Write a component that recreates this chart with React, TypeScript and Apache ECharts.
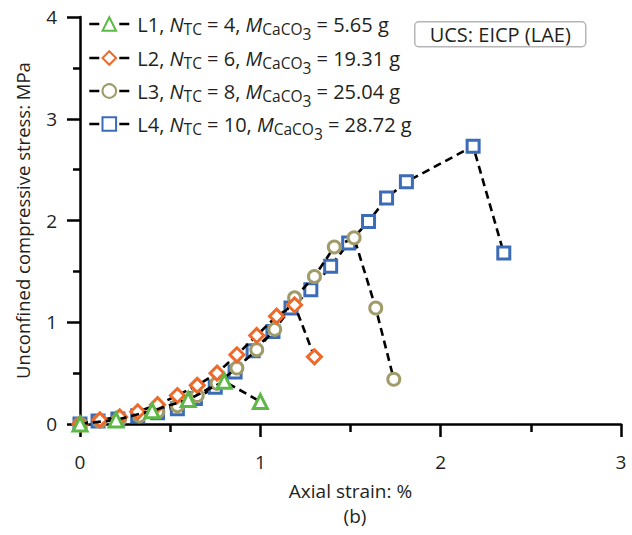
import React, { useEffect, useRef } from "react";
import * as echarts from "echarts";

const seriesNames = ["L1", "L2", "L3", "L4"];
const nTC = [4, 6, 8, 10];
const mCaCO3 = ["5.65", "19.31", "25.04", "28.72"];

const l1X = [0, 0.2, 0.4, 0.6, 0.8, 1.0];
const l1Y = [0, 0.04, 0.13, 0.24, 0.42, 0.22];

const l2X = [0, 0.11, 0.22, 0.32, 0.43, 0.54, 0.65, 0.76, 0.87, 0.98, 1.09, 1.19, 1.3];
const l2Y = [0, 0.04, 0.07, 0.12, 0.19, 0.28, 0.38, 0.5, 0.68, 0.87, 1.06, 1.17, 0.66];

const l3X = [0, 0.11, 0.22, 0.33, 0.43, 0.54, 0.65, 0.76, 0.87, 0.98, 1.08, 1.19, 1.3, 1.41, 1.52, 1.64, 1.74];
const l3Y = [0, 0.03, 0.05, 0.08, 0.12, 0.18, 0.28, 0.4, 0.55, 0.73, 0.93, 1.24, 1.45, 1.74, 1.83, 1.14, 0.44];

const l4X = [0, 0.1, 0.21, 0.32, 0.43, 0.54, 0.64, 0.75, 0.86, 0.96, 1.07, 1.17, 1.28, 1.39, 1.49, 1.6, 1.7, 1.81, 2.18, 2.35];
const l4Y = [0, 0.03, 0.05, 0.08, 0.11, 0.15, 0.25, 0.36, 0.51, 0.72, 0.91, 1.14, 1.32, 1.55, 1.78, 1.99, 2.22, 2.38, 2.73, 1.68];

const xTicks = [0, 1, 2, 3];
const yTicks = [0, 1, 2, 3, 4];

const colors = ["#5cb946", "#ee6a2b", "#a09c6a", "#3c6cb8"];
const symbols = ["triangle", "diamond", "circle", "rect"];
const symbolSizes = [14, 14, 12, 12];

const FONT = "Open Sans";
const TEXT = "#231f20";

export default function App() {
  const ref = useRef<HTMLDivElement>(null);
  useEffect(() => {
    if (!ref.current) return;
    const chart = echarts.init(ref.current, null, { renderer: "svg" });
    const xs = [l1X, l2X, l3X, l4X];
    const ys = [l1Y, l2Y, l3Y, l4Y];
    const series: any[] = [];
    for (let i = 3; i >= 0; i--) {
      series.push({
        name: seriesNames[i],
        type: "line",
        data: xs[i].map((x, k) => [x, ys[i][k]]),
        symbol: symbols[i],
        symbolSize: symbolSizes[i],
        showAllSymbol: true,
        clip: false,
        lineStyle: { color: "#000", width: 2.6, type: [8, 5] },
        itemStyle: { color: "#fff", borderColor: colors[i], borderWidth: 3 },
        z: 2 + (3 - i),
      });
    }
    const legendMap: Record<string, string> = {};
    seriesNames.forEach((n, i) => {
      legendMap[n] = `${n}, {i|N}{sub|TC} = ${nTC[i]}, {i|M}{sub|CaCO}{sub2|3} = ${mCaCO3[i]} g`;
    });
    const rowTops = [6, 40, 73, 106];
    const legends = seriesNames.map((n, i) => ({
      data: [n],
      orient: "vertical",
      left: 88,
      top: rowTops[i],
      padding: 0,
      itemWidth: 40,
      itemHeight: 17,
      lineStyle: { color: "#000", width: 2.6, type: [10, 20] },
      formatter: (name: string) => legendMap[name],
      textStyle: {
        fontFamily: FONT,
        fontSize: 20,
        color: TEXT,
        lineHeight: 24,
        padding: [0, 0, 0, 3],
        rich: {
          i: { fontFamily: FONT, fontSize: 20, fontStyle: "italic", color: TEXT, lineHeight: 24 },
          sub: { fontFamily: FONT, fontSize: 15.5, color: TEXT, padding: [9, 0, 0, 0], lineHeight: 24 },
          sub2: { fontFamily: FONT, fontSize: 15.5, color: TEXT, padding: [20, 0, 0, 0], lineHeight: 24 },
        },
      },
    }));
    chart.setOption({
      animation: false,
      textStyle: { fontFamily: FONT },
      grid: { left: 80, right: 11, top: 17, bottom: 111, containLabel: false },
      legend: legends,
      xAxis: {
        type: "value",
        min: xTicks[0],
        max: xTicks[xTicks.length - 1],
        interval: 1,
        name: "Axial strain: %",
        nameLocation: "middle",
        nameGap: 57,
        nameTextStyle: { fontFamily: FONT, fontSize: 19, color: TEXT },
        axisLine: { lineStyle: { color: "#000", width: 2.5 } },
        axisTick: { show: true, inside: false, length: 13, lineStyle: { color: "#000", width: 2.5 } },
        minorTick: { show: true, splitNumber: 2, length: 8, lineStyle: { color: "#000", width: 2.5 } },
        splitLine: { show: false },
        axisLabel: { fontFamily: FONT, fontSize: 19, color: TEXT, margin: 28 },
      },
      yAxis: {
        type: "value",
        min: yTicks[0],
        max: yTicks[yTicks.length - 1],
        interval: 1,
        name: "Unconfined compressive stress: MPa",
        nameLocation: "middle",
        nameGap: 48,
        nameTextStyle: { fontFamily: FONT, fontSize: 18.5, color: TEXT },
        axisLine: { lineStyle: { color: "#000", width: 2.5 } },
        axisTick: { show: true, inside: false, length: 13, lineStyle: { color: "#000", width: 2.5 } },
        minorTick: { show: true, splitNumber: 2, length: 7, lineStyle: { color: "#000", width: 2.5 } },
        splitLine: { show: false },
        axisLabel: { fontFamily: FONT, fontSize: 19, color: TEXT, margin: 23 },
      },
      title: {
        text: "(b)",
        left: 350,
        top: 501,
        textAlign: "center",
        textStyle: { fontFamily: FONT, fontSize: 19, fontWeight: "normal", color: TEXT },
      },
      graphic: [
        {
          type: "group",
          left: 414,
          top: 21,
          children: [
            {
              type: "rect",
              shape: { x: 0, y: 0, width: 171, height: 25, r: 4 },
              style: { fill: "#fff", stroke: "#b5b5b5", lineWidth: 1.5 },
            },
            {
              type: "text",
              x: 85.5,
              y: 12.5,
              style: {
                text: "UCS: EICP (LAE)",
                fontFamily: FONT,
                fontSize: 20,
                fill: TEXT,
                align: "center",
                verticalAlign: "middle",
              },
            },
          ],
        },
      ],
      series,
    });
    return () => chart.dispose();
  }, []);
  return <div ref={ref} style={{ width: 632, height: 535, position: "absolute", left: 0, top: 0 }} />;
}
